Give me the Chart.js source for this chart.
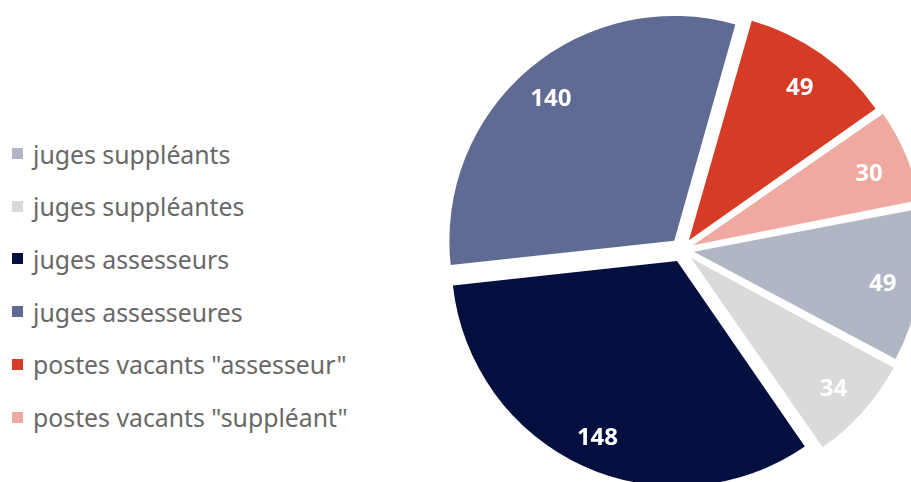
<!DOCTYPE html>
<html>
<head>
<meta charset="utf-8">
<script src="https://cdn.jsdelivr.net/npm/chart.js@4"></script>
<style>
 html, body { margin:0; padding:0; width:911px; height:482px; overflow:hidden; background:#fff; }
 #pie-box { position:absolute; left:434px; top:2px; width:496px; height:496px; }
 #legende { position:absolute; left:0; top:0; font-family:"Noto Sans", sans-serif; font-size:24.8px; color:#686868; }
 .item { position:absolute; left:12px; white-space:nowrap; display:flex; align-items:center; height:34px; }
 .carre { width:11px; height:11px; margin-right:10px; }
</style>
</head>
<body>
<div id="legende"></div>
<div id="pie-box"><canvas id="pie"></canvas></div>
<script>
 var labels  = [ 'juges suppléants', 'juges suppléantes', 'juges assesseurs', 'juges assesseures',
                 'postes vacants "assesseur"', 'postes vacants "suppléant"' ];
 var valeurs = [ 49, 34, 148, 140, 49, 30 ];
 var couleurs = [ '#B0B6C4', '#DADADA', '#03103F', '#5F6B93', '#D63B26', '#EFA9A0' ];

/******************************** Légende HTML à gauche ***********************************************/
 var legende = document.getElementById("legende");
 for (var i=0; i<labels.length; i++)
  { var item = document.createElement("div");
    item.className = "item";
    item.style.top = (153.5 - 17 + i*52.7) + "px";
    var carre = document.createElement("div");
    carre.className = "carre";
    carre.style.background = couleurs[i];
    item.appendChild(carre);
    item.appendChild(document.createTextNode(labels[i]));
    legende.appendChild(item);
  }

/******************************** Etiquettes de valeurs dans les parts ********************************/
 var etiquettes =
  { id: 'etiquettes',
    afterDatasetsDraw: function (chart)
     { var ctx = chart.ctx;
       var meta = chart.getDatasetMeta(0);
       ctx.save();
       ctx.font = 'bold 24px "Open Sans", sans-serif';
       ctx.fillStyle = '#fff';
       ctx.textAlign = 'center';
       ctx.textBaseline = 'middle';
       meta.data.forEach( function (arc, i)
        { var mid = (arc.startAngle + arc.endAngle) / 2;
          var r = arc.outerRadius * 0.853 + 12;
          ctx.fillText( valeurs[i], arc.x + Math.cos(mid)*r, arc.y + Math.sin(mid)*r + 4 );
        });
       ctx.restore();
     }
  };

 new Chart( document.getElementById("pie"),
  { type: 'pie',
    data: { labels: labels,
            datasets: [ { data: valeurs, backgroundColor: couleurs,
                          borderWidth: 0, offset: 48, hoverOffset: 0 } ]     /* v4 : offset/4 au dessin */
          },
    options: { responsive: true, maintainAspectRatio: false, animation: false,
               rotation: 79,
               layout: { padding: 0 },
               plugins: { legend: { display: false }, tooltip: { enabled: false } }
             },
    plugins: [ etiquettes ]
  });
</script>
</body>
</html>
